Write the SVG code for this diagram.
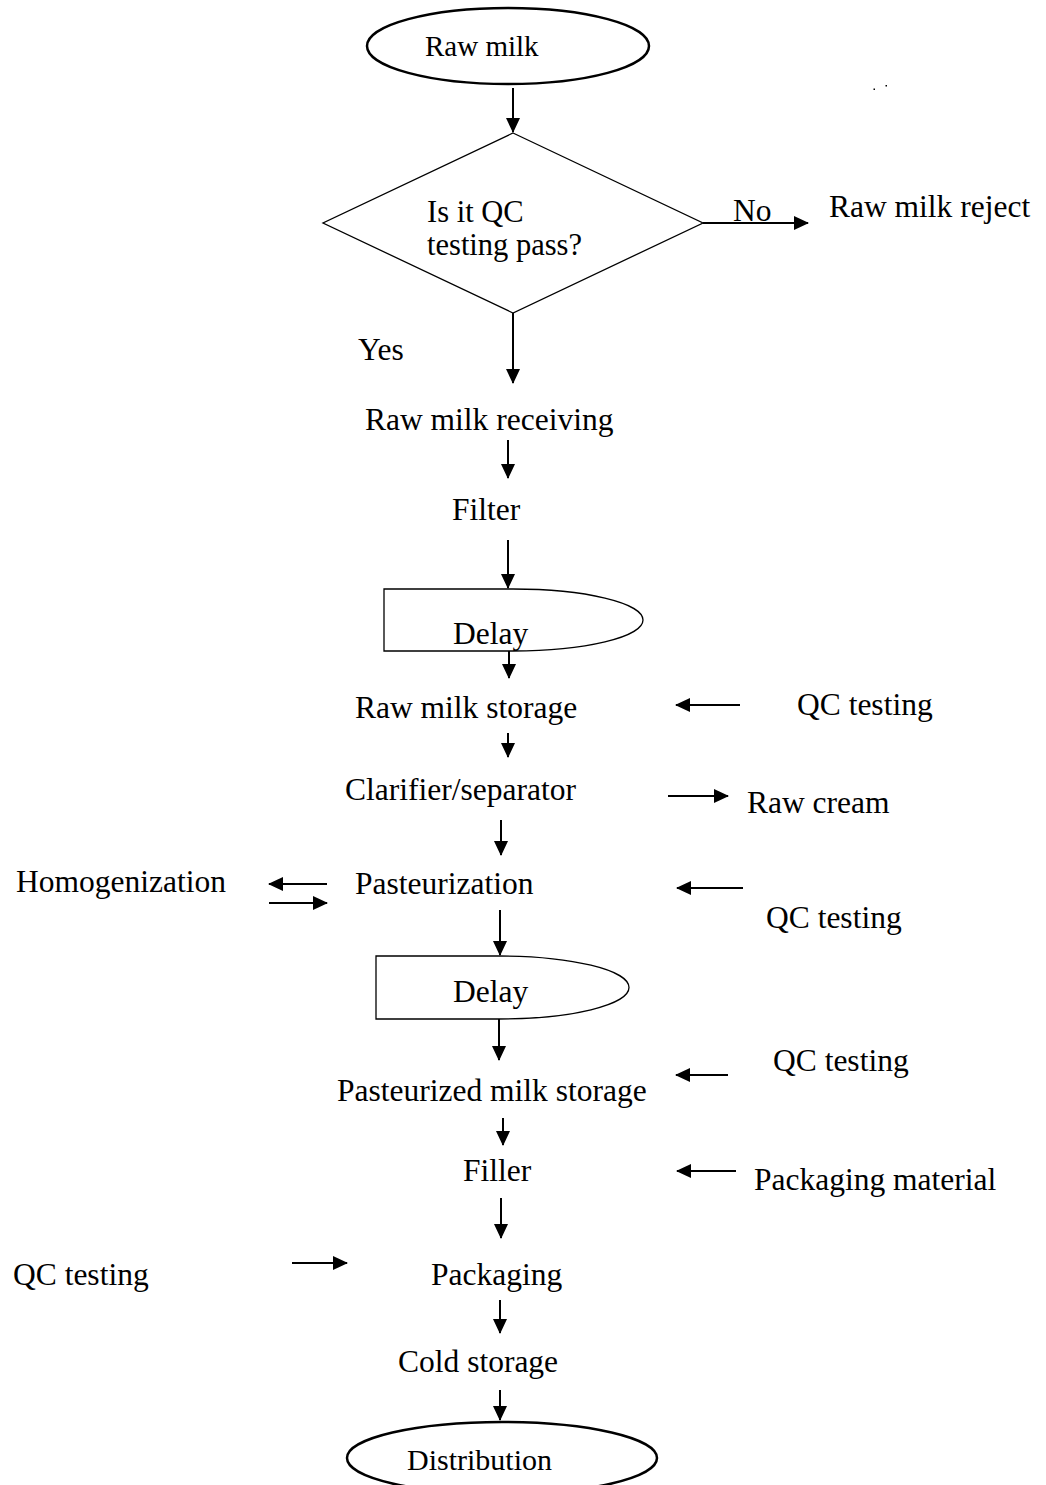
<svg xmlns="http://www.w3.org/2000/svg" width="1046" height="1485" viewBox="0 0 1046 1485">
<style>
text{font-family:"Liberation Serif","Times New Roman",serif;font-size:31.5px;fill:#000}
.sh{fill:#fff;stroke:#000;stroke-width:1.3}
.el{fill:#fff;stroke:#000;stroke-width:2.5}
.c line{stroke:#000;stroke-width:2;marker-end:url(#ah)}
</style>
<defs>
<marker id="ah" markerWidth="15" markerHeight="14" refX="14" refY="7" orient="auto" markerUnits="userSpaceOnUse"><path d="M0,0 L15,7 L0,14 Z" fill="#000"/></marker>
</defs>
<rect width="1046" height="1485" fill="#fff"/>
<g id="n-rawmilk"><ellipse class="el" cx="508" cy="46" rx="141" ry="38"/><text x="425" y="56" style="font-size:29px">Raw milk</text></g>
<g id="n-decision"><polygon class="sh" points="513,133 703,223 513,313 323,223"/><text x="427" y="222" style="font-size:30.5px">Is it QC</text><text x="427" y="255" style="font-size:30.5px">testing pass?</text></g>
<g id="n-reject"><text x="829" y="217">Raw milk reject</text></g>
<g id="n-receiving"><text x="365" y="430">Raw milk receiving</text></g>
<g id="n-filter"><text x="452" y="520">Filter</text></g>
<g id="n-delay1"><path class="sh" d="M384,589 H513 A130,31 0 0 1 513,651 H384 Z"/><text x="453" y="644">Delay</text></g>
<g id="n-rawstorage"><text x="355" y="718">Raw milk storage</text></g>
<g id="n-qc1"><text x="797" y="715">QC testing</text></g>
<g id="n-clarifier"><text x="345" y="800">Clarifier/separator</text></g>
<g id="n-cream"><text x="747" y="813">Raw cream</text></g>
<g id="n-pasteurization"><text x="355" y="894">Pasteurization</text></g>
<g id="n-homogenization"><text x="16" y="892">Homogenization</text></g>
<g id="n-qc2"><text x="766" y="928">QC testing</text></g>
<g id="n-delay2"><path class="sh" d="M376,956 H499 A130,31.5 0 0 1 499,1019 H376 Z"/><text x="453" y="1002">Delay</text></g>
<g id="n-qc3"><text x="773" y="1071">QC testing</text></g>
<g id="n-pastorage"><text x="337" y="1101">Pasteurized milk storage</text></g>
<g id="n-filler"><text x="463" y="1181">Filler</text></g>
<g id="n-pkgmat"><text x="754" y="1190">Packaging material</text></g>
<g id="n-qc4"><text x="13" y="1285">QC testing</text></g>
<g id="n-packaging"><text x="431" y="1285">Packaging</text></g>
<g id="n-cold"><text x="398" y="1372">Cold storage</text></g>
<g id="n-distribution"><ellipse class="el" cx="502" cy="1458" rx="155" ry="36"/><text x="407" y="1470" style="font-size:30px">Distribution</text></g>
<g id="connectors" class="c">
<line x1="513" y1="88" x2="513" y2="132"/>
<line x1="703" y1="223" x2="808" y2="223"/>
<text x="733" y="221">No</text>
<line x1="513" y1="313" x2="513" y2="383"/>
<text x="358" y="360">Yes</text>
<line x1="508" y1="440" x2="508" y2="478"/>
<line x1="508" y1="540" x2="508" y2="588"/>
<line x1="509" y1="651" x2="509" y2="678"/>
<line x1="740" y1="705" x2="676" y2="705"/>
<line x1="508" y1="733" x2="508" y2="757"/>
<line x1="668" y1="796" x2="728" y2="796"/>
<line x1="501" y1="820" x2="501" y2="855"/>
<line x1="327" y1="884" x2="269" y2="884"/>
<line x1="269" y1="903" x2="327" y2="903"/>
<line x1="743" y1="888" x2="677" y2="888"/>
<line x1="500" y1="910" x2="500" y2="955"/>
<line x1="499" y1="1019" x2="499" y2="1060"/>
<line x1="728" y1="1075" x2="676" y2="1075"/>
<line x1="503" y1="1118" x2="503" y2="1145"/>
<line x1="736" y1="1171" x2="677" y2="1171"/>
<line x1="501" y1="1198" x2="501" y2="1238"/>
<line x1="292" y1="1263" x2="347" y2="1263"/>
<line x1="500" y1="1300" x2="500" y2="1333"/>
<line x1="500" y1="1390" x2="500" y2="1420"/>
</g>
<rect x="873.5" y="88.5" width="1.5" height="1.5" fill="#000"/>
<rect x="885.5" y="85" width="1.5" height="1.5" fill="#000"/>
</svg>
